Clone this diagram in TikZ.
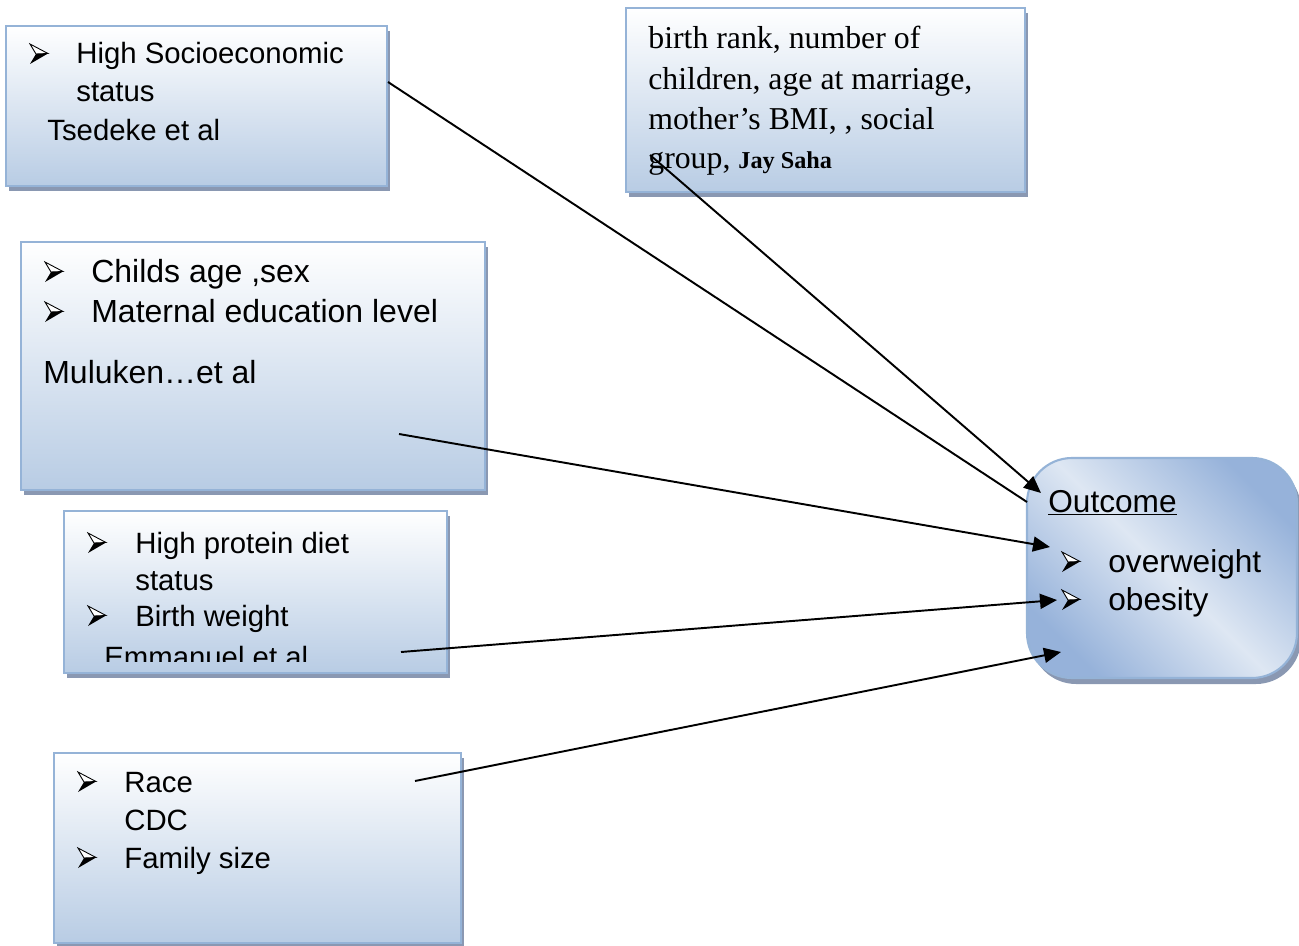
\documentclass[tikz,border=0pt]{standalone}
\usepackage{fontspec}
\setmainfont{Liberation Sans}
\newfontfamily\tnr{Liberation Serif}
\usetikzlibrary{arrows.meta,shadows,fit}
\definecolor{bord}{RGB}{149,179,215}
\definecolor{fillb}{RGB}{184,204,228}
\definecolor{shad}{RGB}{138,152,178}
\definecolor{olight}{RGB}{222,231,243}
\definecolor{odark}{RGB}{150,178,218}
\begin{document}
\begin{tikzpicture}[x=0.02cm,y=-0.02cm,
  box/.style={draw=bord, line width=1.2pt, top color=white, bottom color=fillb,
    inner sep=0pt, drop shadow={shadow xshift=0.06cm, shadow yshift=-0.1cm, fill=shad, opacity=1}},
  obox/.style={draw=bord, line width=1.2pt, rounded corners=0.9cm, inner sep=0pt,
    top color=odark, bottom color=odark, middle color=olight, shading angle=-45,
    drop shadow={shadow xshift=0.08cm, shadow yshift=-0.12cm, fill=shad, opacity=1}},
  txt/.style={anchor=base west, inner sep=0pt},
  sa/.style={txt, font=\fontsize{16.7pt}{20pt}\selectfont},
  sb/.style={txt, font=\fontsize{18.2pt}{22pt}\selectfont},
  so/.style={txt, font=\fontsize{18pt}{22pt}\selectfont},
  st/.style={txt, font=\tnr\fontsize{18.1pt}{22pt}\selectfont},
  bullet/.pic={
    \draw[line width=0.5pt, fill=white, line join=miter] (0,-20) -- (18,-10.5) -- (6,-10) -- cycle;
    \fill[black] (6,-10) -- (18,-10.5) -- (0,0) -- cycle;
  },
  conn/.style={line width=1.1pt, black},
  tip/.style={conn, -{Triangle[length=0.34cm,width=0.3cm]}}
]
\useasboundingbox (0,0) rectangle (1299,946);

% boxes
\node[box, fit={(6,26) (387,186)}] (b1) {};
\node[box, fit={(626,8) (1025,192)}] (b2) {};
\node[box, fit={(21,242) (485,490)}] (b3) {};
\node[box, fit={(64,511) (447,673)}] (b4) {};
\node[box, fit={(54,753) (461,943)}] (b5) {};
\node[obox, fit={(1027,458) (1297,678)}] (out) {};

% box 1
\pic at (30,64) {bullet};
\node[sa] (t1a) at (76,64) {High Socioeconomic};
\node[sa] (t1b) at (76,102) {status};
\node[sa] (t1c) at (47,141) {Tsedeke et al};

% box 2
\node[st] (t2a) at (648,49) {birth rank, number of};
\node[st] (t2b) at (648,90) {children, age at marriage,};
\node[st] (t2c) at (648,130) {mother’s BMI, , social};
\node[st] (t2d) at (648,169) {group, {\bfseries\fontsize{13.8pt}{16pt}\selectfont Jay Saha}};

% box 3
\pic at (45,282) {bullet};
\node[sb] (t3a) at (91,282) {Childs age ,sex};
\pic at (45,322) {bullet};
\node[sb] (t3b) at (91,322) {Maternal education level};
\node[sb] (t3c) at (43,383) {Muluken…et al};

% box 4
\pic at (88,553) {bullet};
\node[sa] (t4a) at (135,553) {High protein diet};
\node[sa] (t4b) at (135,590) {status};
\pic at (88,626) {bullet};
\node[sa] (t4c) at (135,626) {Birth weight};
\begin{scope}
\clip (64,511) rectangle (447,661);
\node[sa] (t4d) at (104,667) {Emmanuel et al};
\end{scope}

% box 5
\pic at (78,792) {bullet};
\node[sa] (t5a) at (124,792) {Race};
\node[sa] (t5b) at (124,830) {CDC};
\pic at (78,868) {bullet};
\node[sa] (t5c) at (124,868) {Family size};

% outcome
\node[so] (to) at (1048,512) {\underline{Outcome}};
\pic at (1062,572) {bullet};
\node[so] (toa) at (1108,572) {overweight};
\pic at (1062,610) {bullet};
\node[so] (tob) at (1108,610) {obesity};

% connectors
\coordinate (s1) at (388,82);  \coordinate (e1) at (1027,502);
\coordinate (s2) at (650,155); \coordinate (e2) at (1041,493);
\coordinate (s3) at (399,434); \coordinate (e3) at (1050,547);
\coordinate (s4) at (401,652); \coordinate (e4) at (1057,600);
\coordinate (s5) at (415,781); \coordinate (e5) at (1061,652);
\draw[conn] (s1) -- (e1);
\draw[tip] (s2) -- (e2);
\draw[tip] (s3) -- (e3);
\draw[tip] (s4) -- (e4);
\draw[tip] (s5) -- (e5);
\end{tikzpicture}
\end{document}
